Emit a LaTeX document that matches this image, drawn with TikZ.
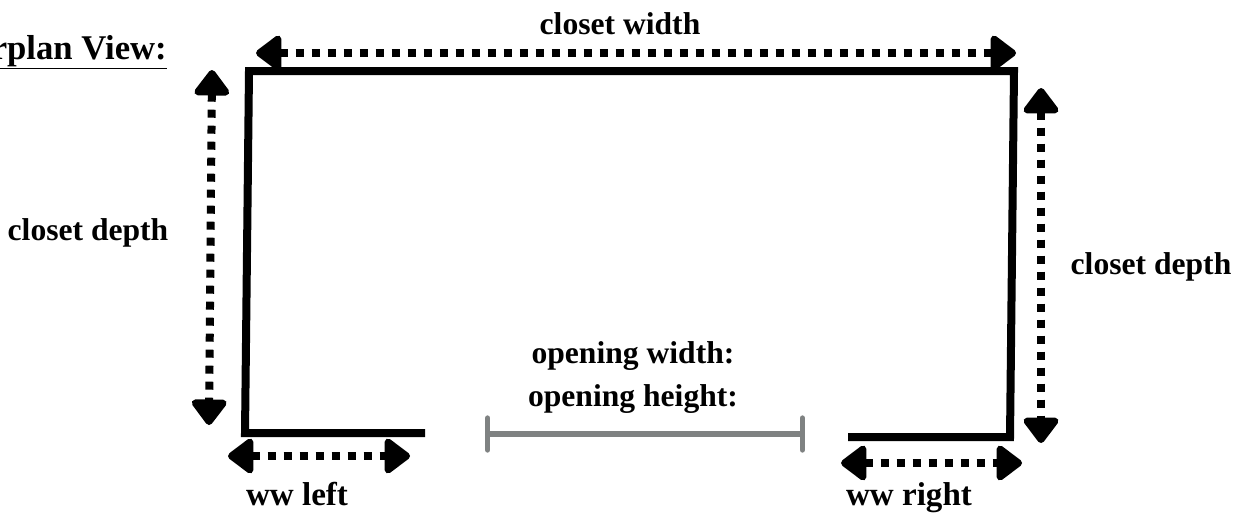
\documentclass[tikz,border=0pt]{standalone}
\usepackage{fontspec}
\setmainfont{Liberation Serif}
\usetikzlibrary{arrows.meta}
\begin{document}
\begin{tikzpicture}[x=0.75pt,y=-0.75pt]
    \definecolor{wallgray}{RGB}{127,130,130}
    \tikzstyle{label}=[font=\bfseries\fontsize{23.7}{27}\selectfont,inner sep=0pt]
    \tikzstyle{wwlabel}=[font=\bfseries\fontsize{24.8}{27}\selectfont,inner sep=0pt,anchor=base]
    \tikzstyle{wall}=[draw=black,line width=6pt,line cap=butt,miter limit=10]
    \tikzstyle{measure}=[draw=black,line width=6pt,dash pattern=on 6pt off 6pt,{Triangle[round,width=30pt,length=21pt]}-{Triangle[round,width=30pt,length=21pt]}]
    \tikzstyle{opening}=[draw=wallgray,line width=4pt,{Bar[round,width=24pt]}-{Bar[round,width=24pt]}]
    \useasboundingbox (0,0) rectangle (1244,514);
    % walls
    \coordinate (leftend) at (425,433);
    \coordinate (leftcorner) at (245,433);
    \coordinate (topleft) at (249,71);
    \coordinate (topright) at (1014,71);
    \coordinate (rightcorner) at (1010,437);
    \coordinate (rightend) at (848,437);
    \path[wall] (leftend) -- (leftcorner) -- (topleft) -- (topright) -- (rightcorner) -- (rightend);
    % gap
    \coordinate (gapleft) at (485,434);
    \coordinate (gapright) at (805,434);
    \path[opening] (gapleft) -- (gapright);
    % measures
    \coordinate (widthleft) at (256,53);
    \coordinate (widthright) at (1016,53);
    \coordinate (depthtopl) at (212,70);
    \coordinate (depthbotl) at (209,425);
    \coordinate (depthtopr) at (1041,88);
    \coordinate (depthbotr) at (1041,443);
    \coordinate (wwla) at (228,456);
    \coordinate (wwlb) at (410,456);
    \coordinate (wwra) at (841,463);
    \coordinate (wwrb) at (1022,463);
    \path[measure] (widthleft) -- (widthright);
    \path[measure] (depthtopl) -- (depthbotl);
    \path[measure] (depthtopr) -- (depthbotr);
    \path[measure] (wwla) -- (wwlb);
    \path[measure] (wwra) -- (wwrb);
    % texts
    \node[label,font=\bfseries\fontsize{26}{27}\selectfont,anchor=base east] (title) at (167,59) {\underline{rplan View:}};
    \node[label] (closetwidth) at (620,24) {closet width};
    \node[label] (depthleft) at (88,233) {closet depth};
    \node[label] (depthright) at (1151,267) {closet depth};
    \node[label,anchor=base] (openwidth) at (633,363) {opening width:};
    \node[label,anchor=base] (openheight) at (633,406) {opening height:};
    \node[wwlabel] (wwleft) at (297,505) {ww left};
    \node[wwlabel] (wwright) at (909,505) {ww right};
\end{tikzpicture}
\end{document}
